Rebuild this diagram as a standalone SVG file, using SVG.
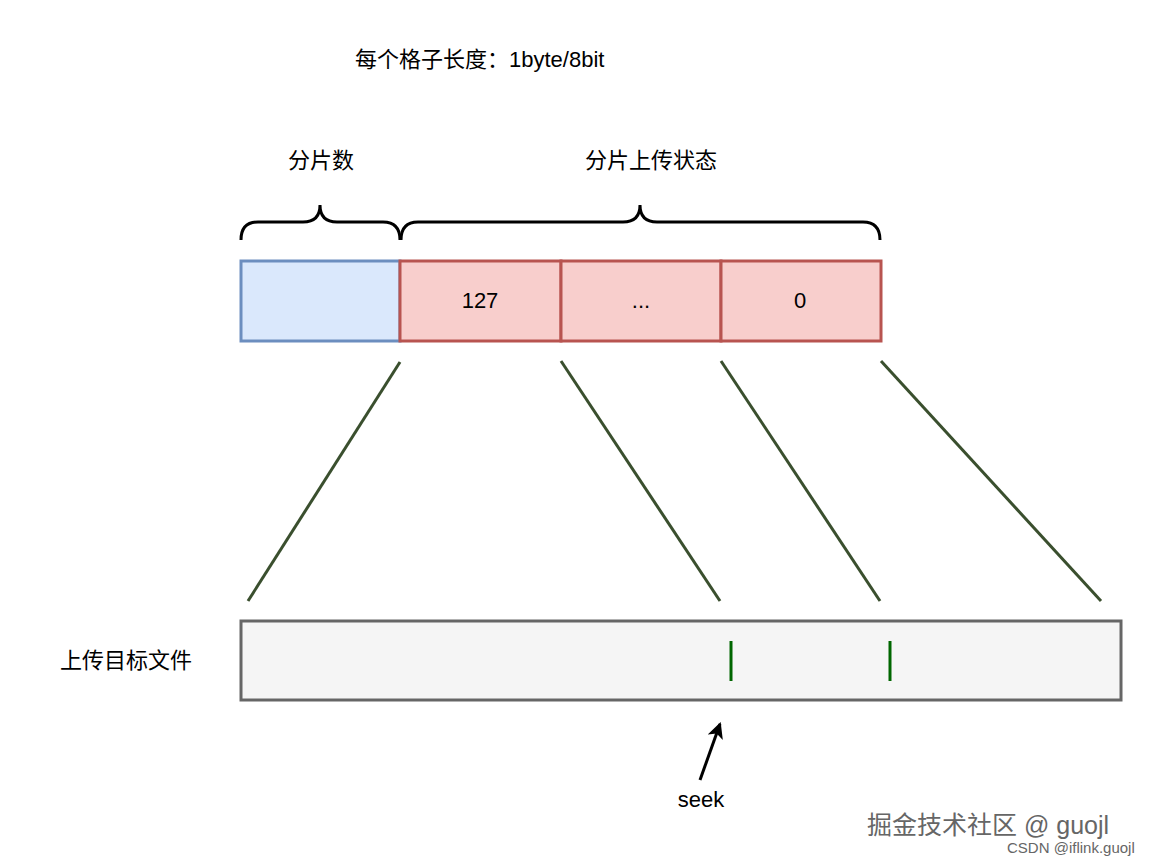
<svg xmlns="http://www.w3.org/2000/svg" width="1164" height="864" viewBox="0 0 1164 864">
<style>
text{font-family:"Liberation Sans","Noto Sans CJK SC",sans-serif;font-size:22px;fill:#000}
.red{fill:#f8cecc;stroke:#b85450;stroke-width:3}
.ln{stroke:#3a4f2e;stroke-width:3;fill:none}
.br{stroke:#000;stroke-width:3;fill:none}
.tk{stroke:#006600;stroke-width:3}
</style>
<defs><marker id="ah" markerWidth="18" markerHeight="16" refX="14" refY="8" orient="auto" markerUnits="userSpaceOnUse"><path d="M0,0L16,8L0,16L4,8z" fill="#000"/></marker></defs>
<rect width="1164" height="864" fill="#fff"/>
<text x="355" y="67">每个格子长度：1byte/8bit</text>
<text x="321" y="168" text-anchor="middle">分片数</text>
<text x="651" y="168" text-anchor="middle">分片上传状态</text>
<g id="braces">
<path class="br" d="M241,240 Q241,222 258,222 L303,222 Q320,222 320,205 Q320,222 337,222 L383,222 Q400,222 400,240"/>
<path class="br" d="M401,240 Q401,222 418,222 L623,222 Q640,222 640,205 Q640,222 657,222 L863,222 Q880,222 880,240"/>
</g>
<g id="n0"><rect x="241" y="261" width="159" height="80" fill="#dae8fc" stroke="#6c8ebf" stroke-width="3"/></g>
<g id="n1"><rect class="red" x="400" y="261" width="161" height="80"/><text x="480" y="308" text-anchor="middle">127</text></g>
<g id="n2"><rect class="red" x="561" y="261" width="160" height="80"/><text x="641" y="308" text-anchor="middle">...</text></g>
<g id="n3"><rect class="red" x="721" y="261" width="160" height="80"/><text x="800" y="308" text-anchor="middle">0</text></g>
<g id="connectors">
<line class="ln" x1="400" y1="362" x2="248" y2="601"/>
<line class="ln" x1="561" y1="361" x2="720" y2="601"/>
<line class="ln" x1="721" y1="361" x2="880" y2="601"/>
<line class="ln" x1="881" y1="361" x2="1101" y2="601"/>
<line stroke="#000" stroke-width="3" x1="700" y1="780" x2="720" y2="724" marker-end="url(#ah)"/>
</g>
<text x="60" y="668">上传目标文件</text>
<g id="file"><rect x="241" y="621" width="880" height="79" fill="#f5f5f5" stroke="#666" stroke-width="3"/>
<line class="tk" x1="731" y1="641" x2="731" y2="681"/><line class="tk" x1="890" y1="641" x2="890" y2="681"/></g>
<text x="701" y="807" text-anchor="middle">seek</text>
<text x="867" y="834" style="font-size:25px;fill:#666">掘金技术社区 @ guojl</text>
<text x="1007" y="853" style="font-size:15px;fill:#666">CSDN @iflink.guojl</text>
</svg>
